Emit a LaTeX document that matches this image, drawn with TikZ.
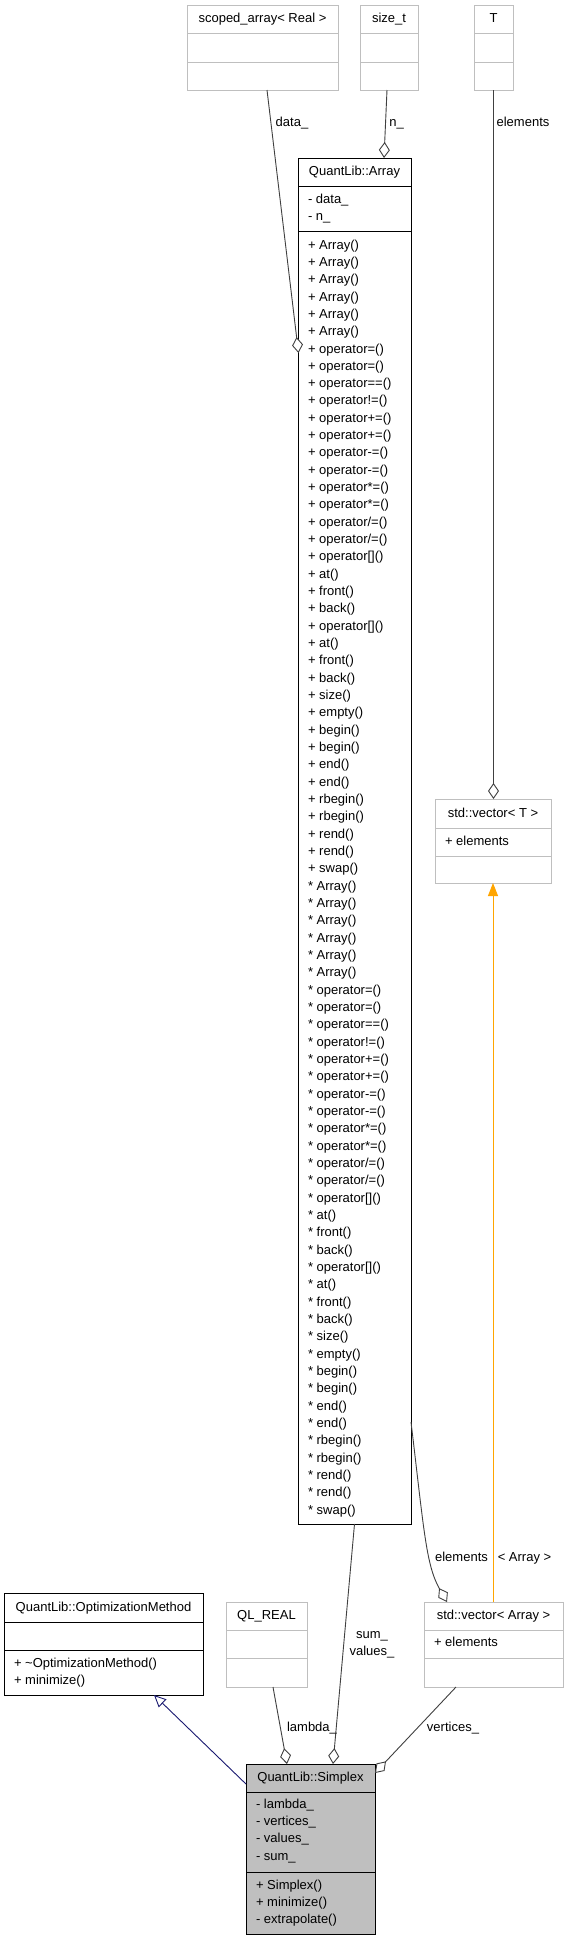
\documentclass[tikz,border=0pt]{standalone}
\usepackage{fontspec}
\setmainfont{Liberation Sans}
\usetikzlibrary{arrows.meta,calc}
\definecolor{boxgray}{HTML}{BFBFBF}
\definecolor{edgegray}{HTML}{404040}
\definecolor{inhblue}{HTML}{191970}
\definecolor{tmplorange}{HTML}{FFA500}
% name, left, top, right, bottom, sep1, sep2, box style, separator colour
\newcommand\umlbox[9]{%
  \node[#8, anchor=north west, minimum width=#4-#2, minimum height=#5-#3] (#1) at (#2,#3) {};
  \draw[#9, line width=1pt] (#2,#6) -- (#4,#6) (#2,#7) -- (#4,#7);
}
\newcommand\arrlist[1]{%
#1 Array()\\{}#1 Array()\\{}#1 Array()\\{}#1 Array()\\{}#1 Array()\\{}#1 Array()\\{}%
#1 operator=()\\{}#1 operator=()\\{}#1 operator==()\\{}#1 operator!=()\\{}%
#1 operator+=()\\{}#1 operator+=()\\{}#1 operator-=()\\{}#1 operator-=()\\{}%
#1 operator*=()\\{}#1 operator*=()\\{}#1 operator/=()\\{}#1 operator/=()\\{}%
#1 operator[]()\\{}#1 at()\\{}#1 front()\\{}#1 back()\\{}%
#1 operator[]()\\{}#1 at()\\{}#1 front()\\{}#1 back()\\{}%
#1 size()\\{}#1 empty()\\{}#1 begin()\\{}#1 begin()\\{}#1 end()\\{}#1 end()\\{}%
#1 rbegin()\\{}#1 rbegin()\\{}#1 rend()\\{}#1 rend()\\{}#1 swap()}
\begin{document}
\begin{tikzpicture}[x=1pt,y=-1pt,
  every node/.style={font=\fontsize{13}{17.33}\selectfont, inner sep=0pt, outer sep=0pt},
  graybox/.style={draw=boxgray, line width=1pt},
  blackbox/.style={draw=black, line width=1pt},
  hilitebox/.style={draw=black, fill=boxgray, line width=1pt},
  hdr/.style={text height=9.5pt, text depth=2.5pt, anchor=center},
  itemlist/.style={anchor=north west, align=left},
  lbl/.style={text height=9.5pt, text depth=2.5pt, anchor=center},
  assoc/.style={draw=edgegray, line width=0.9pt, -{Diamond[fill=white, length=16pt, width=11pt]}},
  inherit/.style={draw=inhblue, line width=0.9pt, -{Triangle[open, fill=white, length=12pt, width=11pt]}},
  tmpl/.style={draw=tmplorange, line width=0.9pt, -{Triangle[length=13pt, width=10pt]}},
]
\useasboundingbox[fill=white] (0,0) rectangle (568,1941);

% ---------- boxes ----------
\umlbox{scoped}{187}{5}{338}{90}{33}{62}{graybox}{boxgray}
\node[hdr] (scoped-h) at (262.5,19) {scoped\_array< Real >};

\umlbox{sizet}{360}{5}{418}{90}{33}{62}{graybox}{boxgray}
\node[hdr] (sizet-h) at (389,19) {size\_t};

\umlbox{T}{474}{5}{513}{90}{33}{62}{graybox}{boxgray}
\node[hdr] (T-h) at (493.5,19) {T};

\umlbox{array}{298}{158}{411}{1524}{186}{231}{blackbox}{black}
\node[hdr] (array-h) at (354.5,172) {QuantLib::Array};
\node[itemlist] (array-a) at (308,191) {\rule{0pt}{12pt}- data\_\\{}- n\_};
\node[itemlist] (array-m) at (308,237) {\rule{0pt}{12pt}\arrlist{+}\\{}\arrlist{*}};

\umlbox{vecT}{435}{799}{551}{883}{828}{856}{graybox}{boxgray}
\node[hdr] (vecT-h) at (493,813.5) {std::vector< T >};
\node[itemlist] (vecT-a) at (445,833) {\rule{0pt}{12pt}+ elements};

\umlbox{optm}{4}{1593}{203}{1695}{1622}{1650}{blackbox}{black}
\node[hdr] (optm-h) at (103.5,1607.5) {QuantLib::OptimizationMethod};
\node[itemlist] (optm-m) at (14,1655) {\rule{0pt}{12pt}+ \textasciitilde OptimizationMethod()\\{}+ minimize()};

\umlbox{qlreal}{226}{1602}{307}{1687}{1630}{1658}{graybox}{boxgray}
\node[hdr] (qlreal-h) at (266.5,1616) {QL\_REAL};

\umlbox{vecA}{424}{1602}{563}{1687}{1630}{1658}{graybox}{boxgray}
\node[hdr] (vecA-h) at (493.5,1616) {std::vector< Array >};
\node[itemlist] (vecA-a) at (434,1634) {\rule{0pt}{12pt}+ elements};

\umlbox{simplex}{246}{1764}{375}{1934}{1792}{1872}{hilitebox}{black}
\node[hdr] (simplex-h) at (310.5,1778) {QuantLib::Simplex};
\node[itemlist] (simplex-a) at (256,1796) {\rule{0pt}{12pt}- lambda\_\\{}- vertices\_\\{}- values\_\\{}- sum\_};
\node[itemlist] (simplex-m) at (256,1877) {\rule{0pt}{12pt}+ Simplex()\\{}+ minimize()\\{}- extrapolate()};

% ---------- connectors ----------
\draw[assoc] ($(scoped.south)+(4.5,0)$) -- ($(array.north west)+(0.5,195)$);
\draw[assoc] ($(sizet.south)+(-2,0)$) -- ($(array.north)+(29.5,0)$);
\draw[assoc] (T.south) -- (T.south |- vecT.north);
\draw[tmpl] (vecT.south |- vecA.north) -- (vecT.south);
\draw[assoc] ($(array.north east)+(0,1264)$)
   .. controls ($(array.north east)+(13,1372)$) and ($(vecA.north west)+(2,-37)$)
   .. ($(vecA.north west)+(23,0)$);
\draw[assoc] (array.south) -- ($(simplex.north)+(22.5,0)$);
\draw[assoc] ($(qlreal.south)+(6.5,0)$) -- ($(simplex.north)+(-23.5,0)$);
\draw[assoc] ($(vecA.south)+(-37.5,0)$) -- ($(simplex.north east)+(0,9)$);
\draw[inherit] ($(simplex.north west)+(0,20)$) -- ($(optm.south)+(50.5,0)$);

% ---------- labels ----------
\node[lbl] (l-data) at (292,123) {data\_};
\node[lbl] (l-n) at (396.5,123) {n\_};
\node[lbl] (l-elemT) at (523,123) {elements};
\node[lbl] (l-elemA) at (461.5,1558) {elements};
\node[lbl] (l-tmpl) at (524.5,1558) {< Array >};
\node[align=center, anchor=center] (l-sumvals) at (372,1645) {sum\_\\{}values\_};
\node[lbl] (l-lambda) at (312,1728) {lambda\_};
\node[lbl] (l-vert) at (453,1728) {vertices\_};
\end{tikzpicture}
\end{document}
